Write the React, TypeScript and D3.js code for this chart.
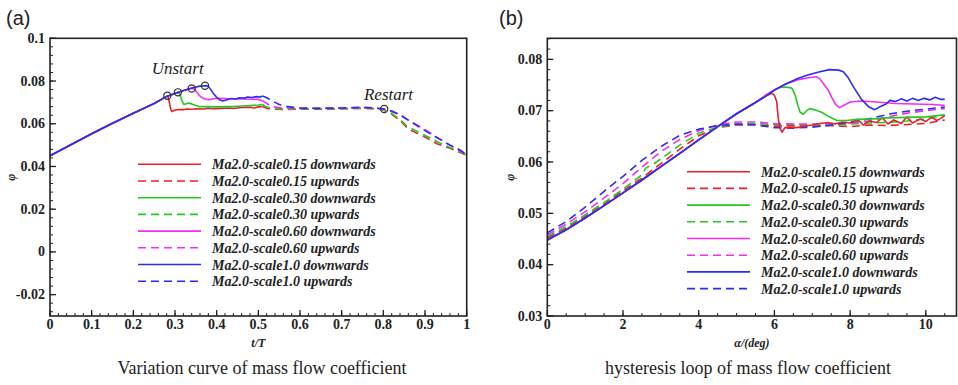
import React from "react";
import * as d3 from "d3";

type P = [number, number];

// ---------- Panel (a): t/T vs phi ----------
const leftRise: P[] = [[0, 0.045], [0.05, 0.0502], [0.1, 0.0553], [0.15, 0.0602], [0.2, 0.0649], [0.25, 0.0695], [0.28, 0.0728]];

const aDown015: P[] = [...leftRise, [0.2825, 0.0731], [0.286, 0.0705], [0.29, 0.0665], [0.293, 0.0657], [0.3, 0.0664], [0.31, 0.0667], [0.32, 0.0666], [0.33, 0.0669], [0.34, 0.0668], [0.35, 0.067], [0.37, 0.0669], [0.38, 0.0673], [0.39, 0.067], [0.41, 0.0672], [0.43, 0.0674], [0.44, 0.0671], [0.46, 0.0676], [0.48, 0.0677], [0.49, 0.0674], [0.5, 0.0679], [0.51, 0.0681]];
const aDown030: P[] = [...leftRise, [0.295, 0.0739], [0.307, 0.0747], [0.312, 0.0738], [0.316, 0.0712], [0.321, 0.069], [0.327, 0.0694], [0.333, 0.0697], [0.34, 0.0692], [0.35, 0.0685], [0.36, 0.068], [0.38, 0.068], [0.4, 0.0679], [0.42, 0.0681], [0.44, 0.068], [0.46, 0.0683], [0.48, 0.0685], [0.5, 0.0688], [0.51, 0.069]];
const aDown060: P[] = [...leftRise, [0.3, 0.0742], [0.32, 0.0755], [0.34, 0.0765], [0.347, 0.0762], [0.352, 0.0748], [0.358, 0.0733], [0.365, 0.0722], [0.372, 0.0716], [0.38, 0.0713], [0.39, 0.0716], [0.4, 0.0719], [0.42, 0.0718], [0.44, 0.0716], [0.46, 0.0716], [0.48, 0.0715], [0.5, 0.0714], [0.51, 0.0708]];
const aDown100: P[] = [...leftRise, [0.3, 0.0742], [0.32, 0.0756], [0.34, 0.0767], [0.36, 0.0776], [0.375, 0.0778], [0.38, 0.0775], [0.385, 0.0762], [0.392, 0.0742], [0.4, 0.0724], [0.408, 0.0711], [0.415, 0.0706], [0.425, 0.0712], [0.435, 0.0718], [0.445, 0.0716], [0.455, 0.0722], [0.465, 0.072], [0.475, 0.0725], [0.485, 0.0723], [0.495, 0.0727], [0.505, 0.0725], [0.51, 0.073]];

const aUp015: P[] = [[0.51, 0.0681], [0.52, 0.0672], [0.54, 0.0668], [0.57, 0.0667], [0.6, 0.0668], [0.65, 0.0668], [0.7, 0.067], [0.75, 0.0672], [0.78, 0.067], [0.8, 0.0665], [0.82, 0.0645], [0.84, 0.0615], [0.86, 0.0575], [0.88, 0.0556], [0.9, 0.0538], [0.93, 0.0505], [0.96, 0.0485], [1.0, 0.0452]];
const aUp030: P[] = [[0.51, 0.069], [0.52, 0.0678], [0.54, 0.067], [0.6, 0.0669], [0.65, 0.067], [0.7, 0.0671], [0.75, 0.0673], [0.78, 0.0671], [0.8, 0.0666], [0.82, 0.0648], [0.84, 0.062], [0.856, 0.059], [0.88, 0.0565], [0.9, 0.0545], [0.944, 0.0502], [0.97, 0.048], [1.0, 0.0453]];
const aUp060: P[] = [[0.51, 0.0708], [0.52, 0.0695], [0.53, 0.0683], [0.55, 0.0675], [0.6, 0.0672], [0.65, 0.0673], [0.7, 0.0674], [0.75, 0.0677], [0.78, 0.0674], [0.8, 0.0669], [0.83, 0.065], [0.86, 0.0617], [0.9, 0.0572], [0.944, 0.0518], [0.97, 0.0488], [1.0, 0.0455]];
const aUp100: P[] = [[0.51, 0.073], [0.52, 0.0722], [0.535, 0.0705], [0.55, 0.069], [0.57, 0.068], [0.6, 0.0674], [0.65, 0.0672], [0.7, 0.0674], [0.75, 0.0676], [0.78, 0.0673], [0.8, 0.067], [0.82, 0.066], [0.84, 0.0642], [0.872, 0.0602], [0.9, 0.0568], [0.928, 0.0535], [0.96, 0.05], [0.984, 0.0477], [1.0, 0.0455]];

const unstartPts: P[] = [[0.2815, 0.0731], [0.307, 0.0747], [0.34, 0.0765], [0.372, 0.0778]];
const restartPts: P[] = [[0.802, 0.0669]];

const aXTicks = [0, 0.1, 0.2, 0.3, 0.4, 0.5, 0.6, 0.7, 0.8, 0.9, 1];
const aYTicks = [-0.02, 0, 0.02, 0.04, 0.06, 0.08, 0.1];

// ---------- Panel (b): alpha vs phi ----------
const rightRise: P[] = [[0, 0.0448], [0.5, 0.0468], [1, 0.0491], [1.5, 0.0515], [2, 0.054], [2.5, 0.0565], [3, 0.0591], [3.5, 0.0617], [4, 0.0643], [4.5, 0.0669], [5, 0.0694], [5.5, 0.0716]];

const bDown015: P[] = [...rightRise, [5.75, 0.0728], [5.93, 0.0734], [6.0, 0.073], [6.06, 0.0718], [6.1, 0.0685], [6.15, 0.0665], [6.2, 0.0658], [6.28, 0.0667], [6.4, 0.0668], [6.6, 0.0667], [6.8, 0.067], [7.0, 0.0672], [7.2, 0.0675], [7.4, 0.0677], [7.6, 0.0674], [7.8, 0.0678], [8.0, 0.0676], [8.2, 0.0683], [8.35, 0.0672], [8.5, 0.068], [8.7, 0.0677], [8.85, 0.0686], [9.0, 0.0674], [9.15, 0.0682], [9.35, 0.0675], [9.5, 0.0688], [9.65, 0.0676], [9.85, 0.0684], [10.0, 0.0679], [10.15, 0.0687], [10.3, 0.0681], [10.5, 0.069]];
const bDown030: P[] = [...rightRise, [5.75, 0.0729], [6.0, 0.074], [6.15, 0.0745], [6.3, 0.0746], [6.46, 0.0744], [6.55, 0.073], [6.62, 0.071], [6.68, 0.0697], [6.76, 0.0693], [6.85, 0.07], [6.94, 0.0704], [7.1, 0.0701], [7.25, 0.0697], [7.45, 0.0688], [7.65, 0.0681], [7.9, 0.0681], [8.2, 0.0683], [8.6, 0.0684], [9.0, 0.0686], [9.5, 0.0687], [10.0, 0.0688], [10.5, 0.0692]];
const bDown060: P[] = [...rightRise, [5.75, 0.0729], [6.0, 0.0741], [6.3, 0.0752], [6.6, 0.076], [6.9, 0.0764], [7.12, 0.0766], [7.2, 0.0762], [7.3, 0.0752], [7.42, 0.074], [7.52, 0.0725], [7.62, 0.0712], [7.72, 0.0706], [7.85, 0.0711], [8.0, 0.0717], [8.3, 0.0719], [8.7, 0.0717], [9.2, 0.0714], [9.7, 0.0713], [10.2, 0.0712], [10.5, 0.071]];
const bDown100: P[] = [...rightRise, [5.75, 0.0727], [6.0, 0.074], [6.3, 0.0752], [6.6, 0.0762], [6.9, 0.077], [7.2, 0.0776], [7.45, 0.078], [7.7, 0.0779], [7.82, 0.0776], [7.95, 0.0764], [8.1, 0.0745], [8.3, 0.0722], [8.5, 0.0707], [8.65, 0.0702], [8.8, 0.0708], [8.95, 0.0713], [9.05, 0.072], [9.2, 0.0718], [9.35, 0.0723], [9.5, 0.0719], [9.65, 0.0724], [9.8, 0.072], [9.95, 0.0724], [10.1, 0.0721], [10.25, 0.0726], [10.4, 0.0722], [10.5, 0.0722]];

const bUp015: P[] = [[0, 0.0452], [0.5, 0.0471], [1, 0.0494], [1.5, 0.0518], [2, 0.0544], [2.5, 0.0569], [3, 0.0597], [3.5, 0.0625], [4, 0.0651], [4.5, 0.0667], [5, 0.0672], [5.5, 0.0673], [6, 0.067], [6.5, 0.0671], [7, 0.067], [7.5, 0.0671], [8, 0.0669], [8.5, 0.0672], [9, 0.0671], [9.5, 0.0673], [10, 0.0675], [10.5, 0.0682]];
const bUp030: P[] = [[0, 0.0455], [0.5, 0.0474], [1, 0.0497], [1.5, 0.0521], [2, 0.0547], [2.5, 0.0575], [2.6, 0.0588], [2.8, 0.0596], [3, 0.0606], [3.5, 0.0633], [4, 0.0656], [4.5, 0.0668], [5, 0.0674], [5.5, 0.0675], [6, 0.0673], [6.5, 0.0673], [7, 0.0672], [7.5, 0.0672], [8, 0.0674], [8.5, 0.0676], [9, 0.0677], [9.5, 0.068], [10, 0.0684], [10.5, 0.0691]];
const bUp060: P[] = [[0, 0.0458], [0.5, 0.0479], [1, 0.0503], [1.5, 0.053], [2, 0.0558], [2.5, 0.059], [3, 0.062], [3.5, 0.0644], [4, 0.0661], [4.5, 0.0672], [5, 0.0678], [5.5, 0.0678], [6, 0.0675], [6.5, 0.0674], [7, 0.0674], [7.5, 0.0675], [8, 0.0676], [8.5, 0.068], [9, 0.0688], [9.5, 0.0695], [10, 0.07], [10.5, 0.0704]];
const bUp100: P[] = [[0, 0.0462], [0.5, 0.0484], [1, 0.0512], [1.5, 0.0543], [2, 0.0572], [2.5, 0.0603], [3, 0.063], [3.5, 0.0652], [4, 0.0664], [4.5, 0.0671], [5, 0.0674], [5.5, 0.0672], [6, 0.0667], [6.5, 0.0666], [7, 0.0668], [7.5, 0.0672], [8, 0.0678], [8.5, 0.0684], [9, 0.0693], [9.5, 0.0699], [10, 0.0703], [10.5, 0.0707]];

const bXTicks = [0, 2, 4, 6, 8, 10];
const bYTicks = [0.03, 0.04, 0.05, 0.06, 0.07, 0.08];

const legendLabels = [
  "Ma2.0-scale0.15 downwards",
  "Ma2.0-scale0.15 upwards",
  "Ma2.0-scale0.30 downwards",
  "Ma2.0-scale0.30 upwards",
  "Ma2.0-scale0.60 downwards",
  "Ma2.0-scale0.60 upwards",
  "Ma2.0-scale1.0 downwards",
  "Ma2.0-scale1.0 upwards",
];
const seriesColors = ["#e8202a", "#e8202a", "#22c922", "#22c922", "#f42cf4", "#f42cf4", "#2a2cf2", "#2a2cf2"];
const seriesDashed = [false, true, false, true, false, true, false, true];

const aSeries = [aDown015, aUp015, aDown030, aUp030, aDown060, aUp060, aDown100, aUp100];
const bSeries = [bDown015, bUp015, bDown030, bUp030, bDown060, bUp060, bDown100, bUp100];
// drawing order (later on top)
const drawOrder = [1, 3, 5, 7, 0, 2, 4, 6];

const SERIF = "'Liberation Serif', 'Times New Roman', serif";
const DASH = "8,5";

function fmt(v: number) {
  if (v === 0) return "0";
  return String(+v.toFixed(3));
}

function Panel(props: {
  x0: number; x1: number; y0: number; y1: number;
  xDomain: [number, number]; yDomain: [number, number];
  xTicks: number[]; xMinorStep: number; yTicks: number[]; yMinorStep: number;
  series: P[][]; xTitle: string; yTitleX: number;
  legendX: number; legendY: number; letter: string; letterX: number;
  caption: string; captionX: number;
}) {
  const { x0, x1, y0, y1 } = props;
  const xs = d3.scaleLinear().domain(props.xDomain).range([x0, x1]);
  const ys = d3.scaleLinear().domain(props.yDomain).range([y1, y0]);
  const line = d3.line<P>().x((d) => xs(d[0])).y((d) => ys(d[1]));

  const xMinor = d3.range(props.xDomain[0], props.xDomain[1] + 1e-9, props.xMinorStep);
  const yMinor = d3.range(props.yTicks[0] - 5 * props.yMinorStep, props.yDomain[1] + 1e-9, props.yMinorStep)
    .filter((v) => v >= props.yDomain[0] - 1e-9);

  const cx = (x0 + x1) / 2;
  return (
    <g>
      <text x={props.letterX} y={25} fontFamily="'Liberation Sans', Arial, sans-serif" fontSize={20} fill="#222">{props.letter}</text>
      {xMinor.map((v, i) => (
        <line key={"xm" + i} x1={xs(v)} x2={xs(v)} y1={y1} y2={y1 - 3} stroke="#222" strokeWidth={1} />
      ))}
      {yMinor.map((v, i) => (
        <line key={"ym" + i} x1={x0} x2={x0 + 3} y1={ys(v)} y2={ys(v)} stroke="#222" strokeWidth={1} />
      ))}
      {props.xTicks.map((v, i) => (
        <g key={"xt" + i}>
          <line x1={xs(v)} x2={xs(v)} y1={y1} y2={y1 - 6} stroke="#222" strokeWidth={1.3} />
          <text x={xs(v)} y={y1 + 13} textAnchor="middle" fontFamily={SERIF} fontWeight="bold" fontSize={14} fill="#222">{fmt(v)}</text>
        </g>
      ))}
      {props.yTicks.map((v, i) => (
        <g key={"yt" + i}>
          <line x1={x0} x2={x0 + 6} y1={ys(v)} y2={ys(v)} stroke="#222" strokeWidth={1.3} />
          <text x={x0 - 5} y={ys(v) + 4.5} textAnchor="end" fontFamily={SERIF} fontWeight="bold" fontSize={14} fill="#222">{fmt(v)}</text>
        </g>
      ))}
      <g>
        {drawOrder.map((k) => (
          <path key={"s" + k} d={line(props.series[k]) || ""} fill="none" stroke={seriesColors[k]}
            strokeWidth={1.6} strokeDasharray={seriesDashed[k] ? DASH : undefined} strokeLinejoin="round" />
        ))}
      </g>
      <rect x={x0} y={y0} width={x1 - x0} height={y1 - y0} fill="none" stroke="#222" strokeWidth={1.6} />
      {legendLabels.map((lab, i) => {
        const ly = props.legendY + i * 16.7;
        return (
          <g key={"lg" + i}>
            <line x1={props.legendX} x2={props.legendX + 63} y1={ly} y2={ly} stroke={seriesColors[i]} strokeWidth={1.6}
              strokeDasharray={seriesDashed[i] ? DASH : undefined} />
            <text x={props.legendX + 74} y={ly + 5} fontFamily={SERIF} fontWeight="bold" fontStyle="italic" fontSize={14} fill="#222">{lab}</text>
          </g>
        );
      })}
      <text x={cx} y={347} textAnchor="middle" fontFamily={SERIF} fontWeight="bold" fontStyle="italic" fontSize={12} fill="#222">{props.xTitle}</text>
      <text transform={`translate(${props.yTitleX},${(y0 + y1) / 2}) rotate(-90)`} textAnchor="middle" fontFamily={SERIF} fontWeight="bold" fontStyle="italic" fontSize={12} fill="#222">φ</text>
      <text x={props.captionX} y={374} textAnchor="middle" fontFamily={SERIF} fontSize={18} fill="#222">{props.caption}</text>
    </g>
  );
}

export default function App() {
  const ax = d3.scaleLinear().domain([0, 1]).range([50, 466.7]);
  const ay = d3.scaleLinear().domain([-0.03, 0.1]).range([316, 38.3]);
  return (
    <svg width={958} height={385} style={{ position: "absolute", left: 0, top: 0, background: "#fff" }}>
      <rect x={0} y={0} width={958} height={385} fill="#fff" />
      <Panel x0={50} x1={466.7} y0={38.3} y1={316} xDomain={[0, 1]} yDomain={[-0.03, 0.1]}
        xTicks={aXTicks} xMinorStep={0.02} yTicks={aYTicks} yMinorStep={0.004}
        series={aSeries} xTitle="t/T" yTitleX={15} legendX={138} legendY={164.3}
        letter="(a)" letterX={6} caption="Variation curve of mass flow coefficient" captionX={262} />
      <Panel x0={547.3} x1={956.5} y0={38.3} y1={316} xDomain={[0, 10.81]} yDomain={[0.03, 0.0841]}
        xTicks={bXTicks} xMinorStep={0.5} yTicks={bYTicks} yMinorStep={0.002}
        series={bSeries} xTitle="α/(deg)" yTitleX={514} legendX={687} legendY={171.7}
        letter="(b)" letterX={499} caption="hysteresis loop of mass flow coefficient" captionX={748} />
      {[...unstartPts, ...restartPts].map((p, i) => (
        <circle key={"c" + i} cx={ax(p[0])} cy={ay(p[1])} r={3.6} fill="none" stroke="#333" strokeWidth={1.2} />
      ))}
      <text x={ax(0.244)} y={ay(0.0835)} fontFamily={SERIF} fontStyle="italic" fontSize={17} fill="#222">Unstart</text>
      <text x={ax(0.7535)} y={ay(0.0713)} fontFamily={SERIF} fontStyle="italic" fontSize={17} fill="#222">Restart</text>
    </svg>
  );
}
